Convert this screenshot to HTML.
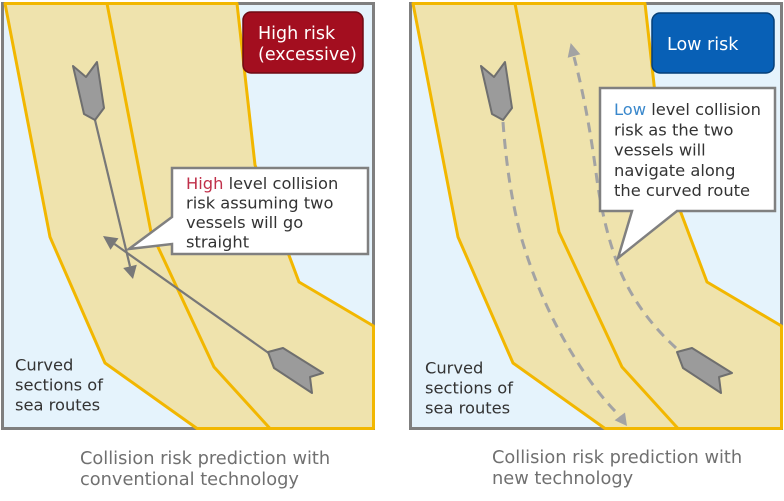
<!DOCTYPE html>
<html><head><meta charset="utf-8"><style>
html,body{margin:0;padding:0;background:#fff;}
svg{display:block;}
text{font-family:"DejaVu Sans","Liberation Sans",sans-serif;}
</style></head><body>
<svg width="784" height="501" viewBox="0 0 784 501" xmlns="http://www.w3.org/2000/svg">

<!-- LEFT PANEL -->
<g>
 <rect x="2.5" y="3.5" width="371" height="425" fill="#e5f3fc" stroke="#7f7f7f" stroke-width="3"/>
 <polygon points="5,3.5 237,3.5 255,165 299,282 373.5,326 373.5,428.5 197,428.5 105,363 50,237" fill="#efe3ad" stroke="#f2b700" stroke-width="3" stroke-linejoin="round"/>
 <polyline points="107,3.5 151,232 214,367 270,428.5" fill="none" stroke="#f2b700" stroke-width="3" stroke-linejoin="round"/>

 <!-- straight lines -->
 <line x1="95" y1="120" x2="130" y2="266.4" stroke="#787878" stroke-width="2.2"/>
 <polygon points="133,279 136.8,264.8 123.2,268" fill="#787878"/>
 <line x1="270" y1="354" x2="114.5" y2="244" stroke="#787878" stroke-width="2.2"/>
 <polygon points="103,236 118.5,238.3 110.5,249.7" fill="#787878"/>

 <!-- vessels -->
 <polygon points="73,66 86,77 97,62 104,108 95,120 84,114" fill="#9b9b9b" stroke="#6f6f6f" stroke-width="2" stroke-linejoin="round"/>
 <polygon points="268,352 283,348 323,373 310,377 312,393 274,368" fill="#9b9b9b" stroke="#6f6f6f" stroke-width="2" stroke-linejoin="round"/>

 <!-- badge -->
 <rect x="243" y="12" width="120" height="61" rx="8" ry="8" fill="#a30e1f" stroke="#6e0a14" stroke-width="1.5"/>
 <text x="258" y="39" font-size="17.5" fill="#fff">High risk</text>
 <text x="258" y="60" font-size="17.5" fill="#fff">(excessive)</text>

 <!-- callout -->
 <path d="M172,168 H368 V254 H172 V244 L129,249 L172,217 Z" fill="#fff" stroke="#808080" stroke-width="2.5" stroke-linejoin="miter"/>
 <text font-size="16.3" fill="#333">
  <tspan x="186" y="189"><tspan fill="#c0304a">High</tspan> level collision</tspan>
  <tspan x="186" y="208.5">risk assuming two</tspan>
  <tspan x="186" y="228">vessels will go</tspan>
  <tspan x="186" y="247.5">straight</tspan>
 </text>

 <text font-size="16.3" fill="#333">
  <tspan x="15" y="370.5">Curved</tspan>
  <tspan x="15" y="390.5">sections of</tspan>
  <tspan x="15" y="410.5">sea routes</tspan>
 </text>

 <text font-size="17.8" fill="#707070">
  <tspan x="80" y="464">Collision risk prediction with</tspan>
  <tspan x="80" y="485">conventional technology</tspan>
 </text>
</g>

<!-- RIGHT PANEL -->
<g transform="translate(408,0)">
 <rect x="2.5" y="3.5" width="371" height="425" fill="#e5f3fc" stroke="#7f7f7f" stroke-width="3"/>
 <polygon points="5,3.5 237,3.5 255,165 299,282 373.5,326 373.5,428.5 197,428.5 105,363 50,237" fill="#efe3ad" stroke="#f2b700" stroke-width="3" stroke-linejoin="round"/>
 <polyline points="107,3.5 151,232 214,367 270,428.5" fill="none" stroke="#f2b700" stroke-width="3" stroke-linejoin="round"/>
</g>
<g>
 <!-- dashed paths -->
 <path d="M503,122 Q508,190 522,240 Q540,300 570,350 Q595,392 620,416" fill="none" stroke="#a3a3a3" stroke-width="3" stroke-dasharray="10 7"/>
 <polygon points="627,426 625,412.5 614.6,420.3" fill="#a3a3a3"/>
 <path d="M676,348 Q640,315 622,275 Q605,235 597,180 Q588,110 574,57" fill="none" stroke="#a3a3a3" stroke-width="3" stroke-dasharray="10 7"/>
 <polygon points="570.7,43 580.3,54.3 567.7,57.7" fill="#a3a3a3"/>

 <!-- vessels -->
 <polygon points="481,66 494,77 505,62 512,108 503,120 492,114" fill="#9b9b9b" stroke="#6f6f6f" stroke-width="2" stroke-linejoin="round"/>
 <polygon points="677,352 692,348 732,373 719,377 721,393 683,368" fill="#9b9b9b" stroke="#6f6f6f" stroke-width="2" stroke-linejoin="round"/>

 <!-- badge -->
 <rect x="652" y="13" width="122" height="60" rx="8" ry="8" fill="#0860b6" stroke="#053f78" stroke-width="1.5"/>
 <text x="667" y="50" font-size="17.5" fill="#fff">Low risk</text>

 <!-- callout -->
 <path d="M600,88 H775 V211 H677 L618,258 L632,211 H600 Z" fill="#fff" stroke="#808080" stroke-width="2.5" stroke-linejoin="miter"/>
 <text font-size="16.3" fill="#333">
  <tspan x="614" y="115"><tspan fill="#3a88cc">Low</tspan> level collision</tspan>
  <tspan x="614" y="135.3">risk as the two</tspan>
  <tspan x="614" y="155.6">vessels will</tspan>
  <tspan x="614" y="175.9">navigate along</tspan>
  <tspan x="614" y="196.2">the curved route</tspan>
 </text>

 <text font-size="16.3" fill="#333">
  <tspan x="425" y="373.5">Curved</tspan>
  <tspan x="425" y="393.5">sections of</tspan>
  <tspan x="425" y="413.5">sea routes</tspan>
 </text>

 <text font-size="17.8" fill="#707070">
  <tspan x="492" y="463">Collision risk prediction with</tspan>
  <tspan x="492" y="484">new technology</tspan>
 </text>
</g>
</svg>
</body></html>
